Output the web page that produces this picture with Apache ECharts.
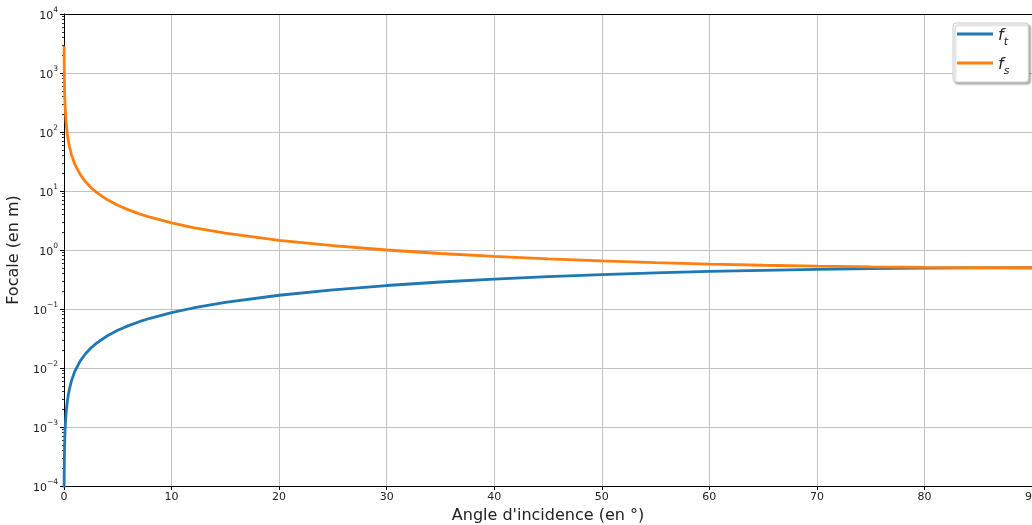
<!DOCTYPE html>
<html>
<head>
<meta charset="utf-8">
<script src="https://cdn.jsdelivr.net/npm/echarts@6/dist/echarts.min.js"></script>
<style>
html,body{margin:0;padding:0;background:#fff;}
#chart{width:1032px;height:525px;}
</style>
</head>
<body>
<div id="chart"></div>
<script>
// Angle d'incidence (degrees)
const angles = [0.01, 0.02, 0.03, 0.05, 0.07, 0.1, 0.15, 0.2, 0.3, 0.4, 0.5, 0.7, 1, 1.5, 2, 2.5, 3, 4, 5, 6, 7, 8, 10, 12, 15, 20, 25, 30, 35, 40, 45, 50, 55, 60, 65, 70, 75, 80, 85, 90];
// f_t (m)
const ftValues = [8.73e-5, 1.745e-4, 2.62e-4, 4.36e-4, 6.11e-4, 8.73e-4, 1.309e-3, 1.745e-3, 2.618e-3, 3.49e-3, 4.363e-3, 6.108e-3, 8.726e-3, 0.01309, 0.01745, 0.02181, 0.02617, 0.03488, 0.04358, 0.05226, 0.06093, 0.06959, 0.08682, 0.1040, 0.1294, 0.1710, 0.2113, 0.25, 0.2868, 0.3214, 0.3536, 0.3830, 0.4096, 0.4330, 0.4532, 0.4698, 0.4830, 0.4924, 0.4981, 0.5];
// f_s (m)
const fsValues = [2865, 1432, 955, 573, 409, 286.5, 191, 143.2, 95.5, 71.6, 57.3, 40.9, 28.65, 19.10, 14.33, 11.46, 9.554, 7.168, 5.737, 4.783, 4.103, 3.593, 2.879, 2.405, 1.932, 1.462, 1.183, 1.0, 0.8717, 0.7779, 0.7071, 0.6527, 0.6104, 0.5774, 0.5517, 0.5321, 0.5176, 0.5077, 0.5019, 0.5];

const seriesNames = ['f_t', 'f_s'];
const xTicks = [0, 10, 20, 30, 40, 50, 60, 70, 80, 90];
const yTickExponents = [-4, -3, -2, -1, 0, 1, 2, 3, 4];
const minorMultipliers = [2, 3, 4, 5, 6, 7, 8, 9];

const majorY = yTickExponents.map(e => Math.pow(10, e));
const minorY = [];
yTickExponents.slice(0, -1).forEach(e => minorMultipliers.forEach(m => minorY.push(m * Math.pow(10, e))));

const FONT = 'DejaVu Sans';
const chart = echarts.init(document.getElementById('chart'), null, {renderer: 'canvas'});

function expLabel(v) {
  const e = Math.round(Math.log10(v));
  const s = e < 0 ? '\u2212' + (-e) : String(e);
  return '{b|10}{s|' + s + '}';
}

chart.setOption({
  animation: false,
  backgroundColor: '#fff',
  grid: {left: 64, right: 0, top: 14, bottom: 39, outerBoundsMode: 'none', containLabel: false, show: false},
  legend: {
    data: seriesNames,
    orient: 'vertical',
    left: 953,
    top: 23,
    padding: [5, 19, 5, 4],
    itemWidth: 36,
    itemHeight: 3,
    itemGap: 9,
    itemTextGap: 12,
    icon: 'rect',
    backgroundColor: '#fff',
    borderColor: '#d0d0d0',
    borderWidth: 1,
    borderRadius: 3,
    shadowColor: 'rgba(0,0,0,0.3)',
    shadowBlur: 2,
    shadowOffsetX: 2,
    shadowOffsetY: 2,
    formatter: function (name) {
      return '{i|f}{sub|' + name.split('_')[1] + '}';
    },
    textStyle: {
      fontFamily: FONT,
      color: '#222',
      rich: {
        i: {fontFamily: FONT, fontStyle: 'italic', fontSize: 16, lineHeight: 20, verticalAlign: 'bottom'},
        sub: {fontFamily: FONT, fontStyle: 'italic', fontSize: 11, lineHeight: 20, verticalAlign: 'bottom', padding: [0, 0, -4, 0]}
      }
    }
  },
  xAxis: [{
    type: 'value',
    min: 0,
    max: 90,
    interval: 10,
    name: "Angle d'incidence (en \u00b0)",
    nameLocation: 'middle',
    nameGap: 20,
    nameTextStyle: {fontFamily: FONT, fontSize: 16, color: '#222'},
    axisLine: {show: true, onZero: false, lineStyle: {color: '#000', width: 1}},
    axisTick: {show: true, inside: false, length: 4, lineStyle: {color: '#000', width: 1}},
    axisLabel: {fontFamily: FONT, fontSize: 11, color: '#222', margin: 6,
      customValues: xTicks},
    splitLine: {show: true, lineStyle: {color: '#c2c2c2', width: 1}}
  }, {
    type: 'value',
    min: 0,
    max: 90,
    position: 'top',
    axisLine: {show: true, onZero: false, lineStyle: {color: '#000', width: 1}},
    axisTick: {show: false},
    axisLabel: {show: false},
    splitLine: {show: false}
  }],
  yAxis: [{
    type: 'log',
    logBase: 10,
    min: 1e-4,
    max: 1e4,
    splitNumber: 8,
    name: 'Focale (en m)',
    nameLocation: 'middle',
    nameRotate: 90,
    nameGap: 35,
    nameTextStyle: {fontFamily: FONT, fontSize: 16, color: '#222'},
    axisLine: {show: true, onZero: false, lineStyle: {color: '#000', width: 1}},
    axisTick: {show: true, inside: false, length: 4, lineStyle: {color: '#000', width: 1}, customValues: majorY},
    axisLabel: {
      margin: 6,
      customValues: majorY,
      formatter: expLabel,
      rich: {
        b: {fontFamily: FONT, fontSize: 11, color: '#222', lineHeight: 16, verticalAlign: 'bottom'},
        s: {fontFamily: FONT, fontSize: 7.5, color: '#222', lineHeight: 16, verticalAlign: 'top'}
      }
    },
    splitLine: {show: true, lineStyle: {color: '#c2c2c2', width: 1}}
  }, {
    type: 'log',
    logBase: 10,
    min: 1e-4,
    max: 1e4,
    position: 'left',
    axisLine: {show: false},
    axisTick: {show: true, inside: false, length: 2, lineStyle: {color: '#000', width: 0.8}, customValues: minorY},
    axisLabel: {show: false},
    splitLine: {show: false}
  }],
  series: [{
    name: seriesNames[0],
    type: 'line',
    data: angles.map((a, i) => [a, ftValues[i]]),
    showSymbol: false,
    smooth: false,
    clip: true,
    lineStyle: {color: '#1f77b4', width: 2.8},
    itemStyle: {color: '#1f77b4'},
    z: 3
  }, {
    name: seriesNames[1],
    type: 'line',
    data: angles.map((a, i) => [a, fsValues[i]]),
    showSymbol: false,
    smooth: false,
    clip: true,
    lineStyle: {color: '#ff7f0e', width: 2.8},
    itemStyle: {color: '#ff7f0e'},
    z: 4
  }]
});
</script>
</body>
</html>
